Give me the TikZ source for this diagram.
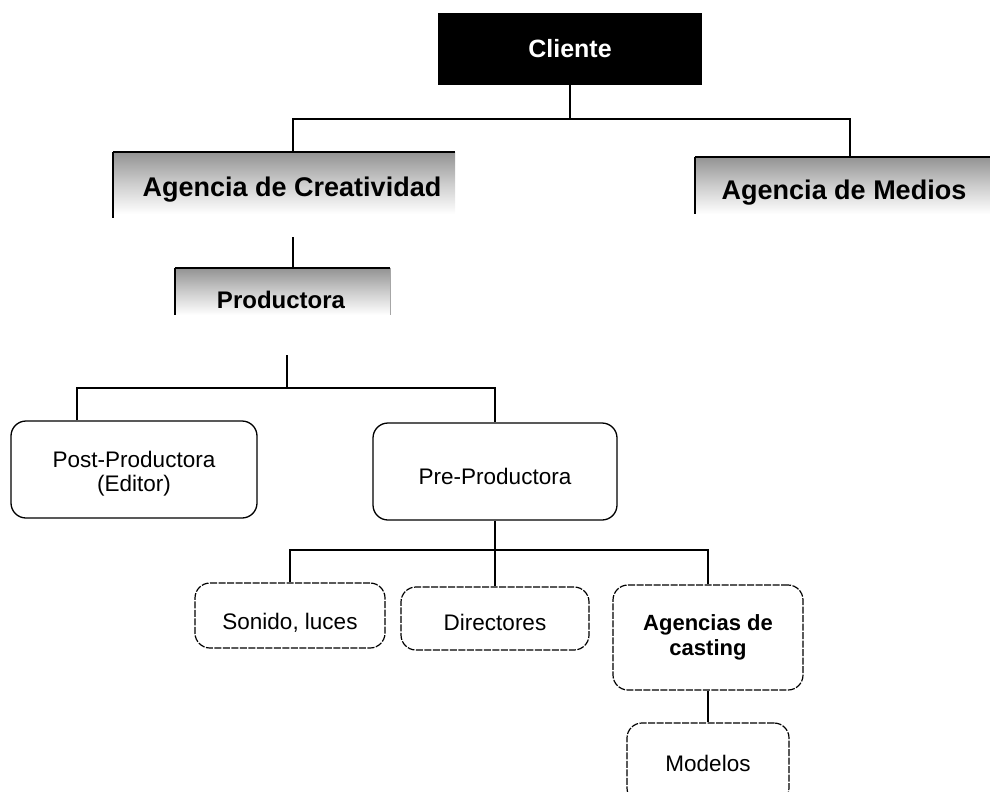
\documentclass[tikz,border=0pt]{standalone}
\usepackage{fontspec}
\setmainfont{Liberation Sans}
\begin{document}
\begin{tikzpicture}[x=1pt,y=-1pt,
  conn/.style={draw=black,line width=1.8pt},
  clibox/.style={fill=black,text=white,inner sep=0pt,font=\bfseries\fontsize{25}{30}\selectfont},
  agbox/.style={top color=gray!85,bottom color=white,middle color=gray!40,inner sep=0pt},
  agtext/.style={inner sep=0pt,font=\bfseries\fontsize{27}{32}\selectfont},
  prodtext/.style={inner sep=0pt,font=\bfseries\fontsize{24}{28}\selectfont},
  plaintext/.style={inner sep=0pt,align=center,font=\fontsize{22.5}{24}\selectfont},
  solidbox/.style={draw=black,line width=1.3pt,rounded corners=15pt,inner sep=0pt},
  dashbox/.style={draw=black,line width=1.2pt,dash pattern=on 7pt off 1.5pt,rounded corners=15pt,inner sep=0pt,align=center,font=\fontsize{22.5}{25}\selectfont},
  bolddash/.style={dashbox,font=\bfseries\fontsize{22}{25}\selectfont},
  edge/.style={line width=2.6pt}
]
\useasboundingbox (0,0) rectangle (990,792);

% Cliente
\node[clibox,minimum width=264pt,minimum height=72pt] (cli) at (570,49) {Cliente};

% Agencia de Creatividad
\node[agbox,minimum width=342pt,minimum height=62pt] (acre) at (284,183) {};
\draw[edge] (acre.north west) -- (acre.north east);
\draw[edge] (acre.north west) -- ([yshift=-4pt]acre.south west);
\node[agtext] (acretext) at (292,190) {Agencia de Creatividad};

% Agencia de Medios
\node[agbox,minimum width=300pt,minimum height=57pt] (amed) at (845,185.5) {};
\draw[edge] (amed.north west) -- (amed.north east);
\draw[edge] (amed.north west) -- (amed.south west);
\node[agtext] (amedtext) at (844,193) {Agencia de Medios};

% Productora
\node[agbox,minimum width=215pt,minimum height=47pt] (prod) at (282.5,291.5) {};
\draw[edge] (prod.north west) -- (prod.north east);
\draw[line width=1.6pt] (prod.north west) -- (prod.south west);
\draw[line width=1.2pt,draw=gray!70] (prod.north east) -- (prod.south east);
\node[prodtext] (prodtext) at (281,300) {Productora};

% Second level
\node[solidbox,minimum width=246pt,minimum height=97pt] (post) at (134,469.5) {};
\node[plaintext] (posttext) at (134,474) {Post-Productora\\(Editor)};
\node[solidbox,minimum width=244pt,minimum height=97pt] (pre) at (495,471.5) {};
\node[plaintext] (pretext) at (495,476) {Pre-Productora};

% Third level
\node[dashbox,minimum width=190pt,minimum height=65pt,text height=33pt,text depth=4.5pt] (son) at (290,615.5) {Sonido, luces};
\node[dashbox,minimum width=188pt,minimum height=63pt,text height=28pt,text depth=4.5pt] (dir) at (495,618.5) {Directores};
\node[bolddash,minimum width=190pt,minimum height=105pt] (cast) at (708,637.5) {Agencias de\\casting};
\node[dashbox,minimum width=162pt,minimum height=80pt] (mod) at (708,763) {Modelos};

% Connectors
\coordinate (jA) at (293,119);
\coordinate (jM) at (850,119);
\draw[conn] (cli.south) -- (cli.south |- jA);
\draw[conn] (jA |- acre.north) -- (jA) -- (jM) -- (jM |- amed.north);

\coordinate (c1) at (293,237);
\draw[conn] (c1) -- (c1 |- prod.north);

\coordinate (c2) at (287,355);
\coordinate (jP) at (77,388);
\coordinate (jQ) at (495,388);
\draw[conn] (c2) -- (c2 |- jP);
\draw[conn] (jP |- post.north) -- (jP) -- (jQ) -- (pre.north);

\coordinate (jD) at (495,550);
\draw[conn] (pre.south) -- (dir.north);
\draw[conn] (son.north) |- (jD) -| (cast.north);
\draw[conn] (cast.south) -- (mod.north);
\end{tikzpicture}
\end{document}
